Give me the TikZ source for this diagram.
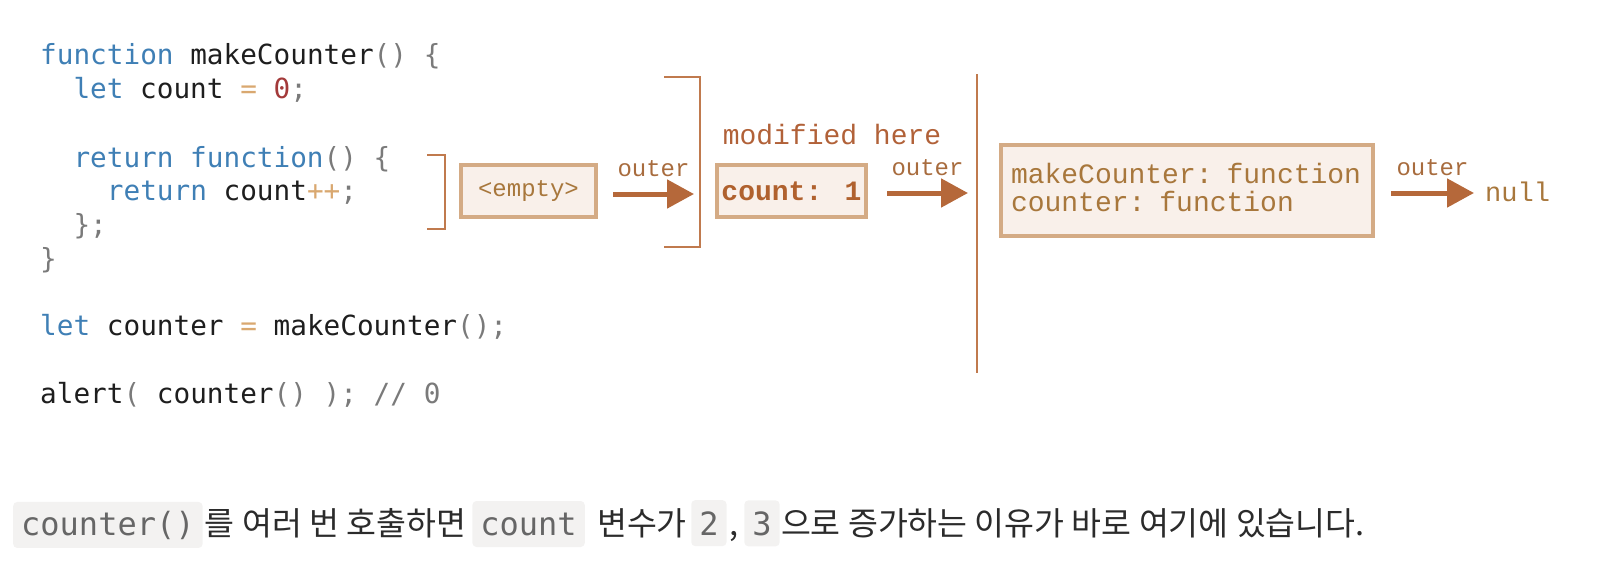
\documentclass[tikz,border=0pt]{standalone}
\usepackage{fontspec}
\usetikzlibrary{positioning,arrows.meta}

\newfontfamily\codefont{DejaVu Sans Mono}
\newfontfamily\envfont{Liberation Mono}
\newfontfamily\korfont{Noto Sans CJK KR}

\definecolor{kwblue}{HTML}{3F7FB5}
\definecolor{codeblack}{HTML}{1E1E1E}
\definecolor{punctgray}{HTML}{7A7A7A}
\definecolor{optan}{HTML}{D9A870}
\definecolor{numred}{HTML}{A33A3A}
\definecolor{scopeline}{HTML}{C07A4E}
\definecolor{arrowbrown}{HTML}{B5683A}
\definecolor{boxedge}{HTML}{D4AB85}
\definecolor{boxfill}{HTML}{F9F0EA}
\definecolor{boxtext}{HTML}{A8773C}
\definecolor{lbltext}{HTML}{A86C3E}
\definecolor{countbrown}{HTML}{B0612E}
\definecolor{spanfill}{HTML}{F3F2F1}
\definecolor{spantext}{HTML}{666666}
\definecolor{bodytext}{HTML}{2B2B2B}

\newcommand{\kw}[1]{\textcolor{kwblue}{#1}}
\newcommand{\pn}[1]{\textcolor{punctgray}{#1}}
\newcommand{\op}[1]{\textcolor{optan}{#1}}

\tikzset{
  codeline/.style={anchor=base west, inner sep=0pt, text=codeblack,
    font=\codefont\fontsize{27.7}{34}\selectfont},
  envbox/.style={draw=boxedge, line width=4pt, fill=boxfill, text=boxtext,
    font=\envfont\fontsize{24}{28}\selectfont},
  scopebar/.style={draw=scopeline, line width=2pt},
  outerarrow/.style={draw=arrowbrown, line width=5pt,
    -{Triangle[length=27pt,width=28pt]}},
  outerlbl/.style={text=lbltext, inner sep=0pt,
    font=\envfont\fontsize{24}{24}\selectfont},
  codespan/.style={fill=spanfill, rounded corners=4pt, text=spantext,
    inner xsep=8pt, minimum height=46pt, anchor=base west,
    font=\codefont\fontsize{32}{32}\selectfont},
  kortext/.style={inner sep=0pt, anchor=base west, text=bodytext,
    font=\korfont\fontsize{32.5}{32.5}\selectfont},
}

\begin{document}
\begin{tikzpicture}[x=1pt,y=-1pt]
  \useasboundingbox (0,0) rectangle (1602,565);

  % code
  \node[codeline] (l1) at (40,64) {\kw{function} makeCounter\pn{() \{}};
  \node[codeline] (l2) at (73.3,98) {\kw{let} count \op{=} \textcolor{numred}{0}\pn{;}};
  \node[codeline] (l4) at (73.3,167) {\kw{return function}\pn{() \{}};
  \node[codeline] (l5) at (106.7,200) {\kw{return} count\op{++}\pn{;}};
  \node[codeline] (l6) at (73.3,234) {\pn{\};}};
  \node[codeline] (l7) at (40,268) {\pn{\}}};
  \node[codeline] (l9) at (40,335) {\kw{let} counter \op{=} makeCounter\pn{();}};
  \node[codeline] (l11) at (40,403) {alert\pn{(} counter\pn{() );} \pn{// 0}};

  % scopes
  \draw[scopebar] (427,155) -- (445,155) -- (445,229) -- (427,229);
  \draw[scopebar] (664,77) -- (700,77) -- (700,247) -- (664,247);
  \draw[scopebar] (977,74) -- (977,373);

  % environments
  \node[envbox, minimum width=135pt, minimum height=52pt] (emptyenv) at (528.5,191) {<empty>};
  \node[envbox, minimum width=149pt, minimum height=52pt, text=countbrown,
    font=\envfont\bfseries\fontsize{28}{28}\selectfont] (countenv) at (791.5,191) {count: 1};
  \node[outerlbl, text=lbltext!90!red, font=\envfont\fontsize{28}{28}\selectfont]
    (modlbl) at (832,135) {modified here};
  \node[envbox, minimum width=372pt, minimum height=91pt, inner xsep=10pt,
    text width=352pt, align=left, text height=14pt,
    font=\envfont\fontsize{28}{28}\selectfont]
    (globalenv) at (1187,190.5) {makeCounter: function\\counter: function};
  \node[outerlbl, anchor=base west, text=boxtext,
    font=\envfont\fontsize{27}{27}\selectfont] (nullend) at (1485,201) {null};

  % outer links
  \draw[outerarrow] ([xshift=15pt]emptyenv.east |- 0,194) -- node[outerlbl, above=15pt] {outer} ([xshift=-21pt]countenv.west |- 0,194);
  \draw[outerarrow] ([xshift=19pt]countenv.east |- 0,193) -- node[outerlbl, above=15pt] {outer} ([xshift=-31pt]globalenv.west |- 0,193);
  \draw[outerarrow] ([xshift=16pt]globalenv.east |- 0,193) -- node[outerlbl, above=15pt] {outer} ([xshift=-11pt]nullend.west |- 0,193);

  % caption line
  \node[codespan] (callspan) at (13,535) {counter()};
  \node[kortext, right=2pt of callspan.base east, anchor=base west] (korA) {를 여러 번 호출하면};
  \node[codespan, right=6pt of korA.base east, anchor=base west] (countspan) {count};
  \node[kortext, right=12pt of countspan.base east, anchor=base west] (korB) {변수가};
  \node[codespan, right=4pt of korB.base east, anchor=base west] (twospan) {2};
  \node[kortext, right=3pt of twospan.base east, anchor=base west] (comma) {,};
  \node[codespan, right=5pt of comma.base east, anchor=base west] (threespan) {3};
  \node[kortext, right=1pt of threespan.base east, anchor=base west] (korC) {으로 증가하는 이유가 바로 여기에 있습니다.};
\end{tikzpicture}
\end{document}
